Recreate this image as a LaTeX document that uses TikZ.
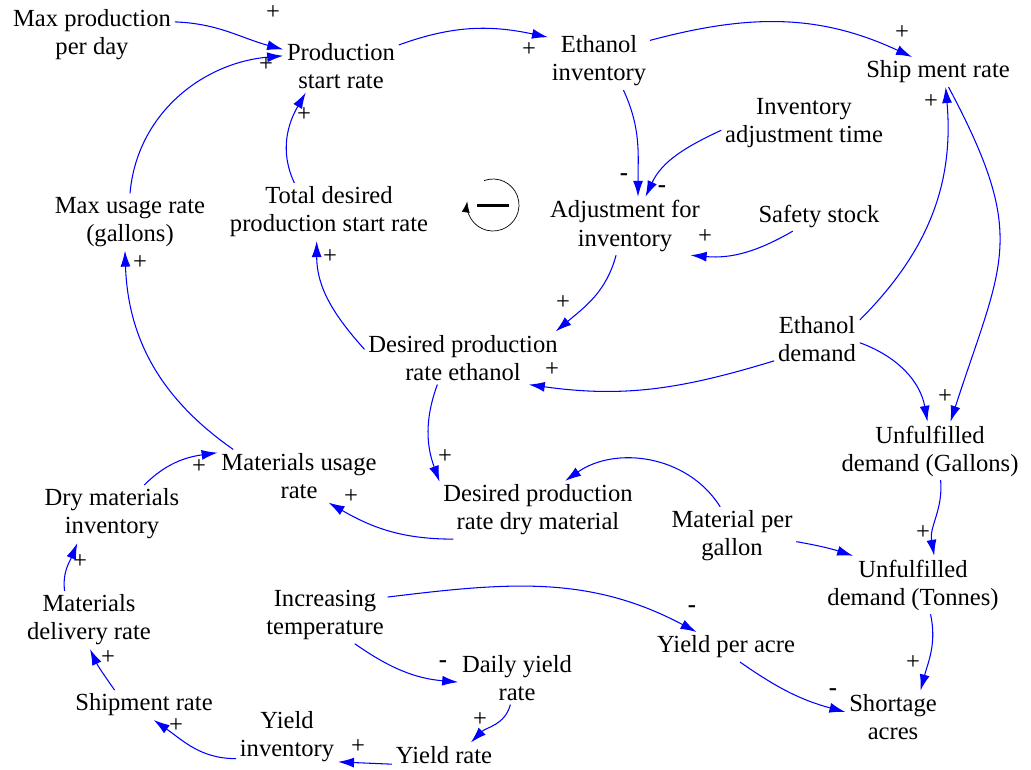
\documentclass[tikz,border=0pt]{standalone}
\usepackage{fontspec}
\setmainfont{Liberation Serif}
\usetikzlibrary{arrows.meta}
\begin{document}
\begin{tikzpicture}[x=0.02cm,y=0.02cm,
var/.style={align=center,inner sep=2pt,font=\fontsize{14}{16}\selectfont},
link/.style={blue,line width=.6pt,-{Latex[length=3.2mm,width=2mm]}},
sgn/.style={inner sep=0pt,font=\fontsize{14}{16}\selectfont}]
\useasboundingbox (0,0) rectangle (1031,-769);
\node [var] (mpd) at (92,-35) {Max production\\per day};
\node [var] (psr) at (341,-66) {Production\\start rate};
\node [var] (ei) at (599,-61) {Ethanol\\inventory};
\node [var] (shr) at (938,-72) {Ship ment rate};
\node [var] (iat) at (804,-123) {Inventory\\adjustment time};
\node [var] (afi) at (625,-226) {Adjustment for\\inventory};
\node [var] (ss) at (819,-216) {Safety stock};
\node [var] (tdp) at (329,-212) {Total desired\\production start rate};
\node [var] (mxur) at (130,-222) {Max usage rate\\(gallons)};
\node [var] (dpe) at (463,-358) {Desired production\\rate ethanol};
\node [var] (ed) at (817,-339) {Ethanol\\demand};
\node [var] (ufg) at (930,-451) {Unfulfilled\\demand (Gallons)};
\node [var] (mur) at (299,-476) {Materials usage\\rate};
\node [var] (dprm) at (538,-510) {Desired production\\rate dry material};
\node [var] (mpg) at (732,-536) {Material per\\gallon};
\node [var] (dmi) at (112,-514) {Dry materials\\inventory};
\node [var] (uft) at (913,-585) {Unfulfilled\\demand (Tonnes)};
\node [var] (mdr) at (89,-620) {Materials\\delivery rate};
\node [var] (it) at (325,-615) {Increasing\\temperature};
\node [var] (ypa) at (726,-647) {Yield per acre};
\node [var] (dyr) at (517,-678) {Daily yield\\rate};
\node [var] (sa) at (893,-717) {Shortage\\acres};
\node [var] (shp) at (144,-705) {Shipment rate};
\node [var] (yi) at (287,-737) {Yield\\inventory};
\node [var] (yr) at (444,-755) {Yield rate};
\draw [link] (mpd.9) to [out=-2,in=165] (psr.164);
\draw [link] (mxur.north) to [out=85,in=185] (psr.170);
\draw [link] (tdp.140) to [out=115,in=-120] (psr.217);
\draw [link] (psr.20) to [out=20,in=168] (ei.155);
\draw [link] (ei.22) to [out=15,in=155] (shr.150);
\draw [link] (ei.-50) to [out=-65,in=90] (afi.66);
\draw [link] (iat.185) to [out=205,in=65] (afi.55);
\draw [link] (ss.210) to [out=-150,in=-5] (afi.-24);
\draw [link] (afi.-107) to [out=-105,in=40] (dpe.16);
\draw [link] (dpe.175) to [out=132,in=-90] (tdp.-113);
\draw [link] (ed.207) to [out=-163,in=-8] (dpe.-22);
\draw [link] (ed.24) to [out=45,in=-85] (shr.-63);
\draw [link] (shr.-55) to [out=-62,in=72,looseness=1.3] (ufg.55);
\draw [link] (ed.-5) to [out=-20,in=100] (ufg.95);
\draw [link] (ufg.-70) to [out=-85,in=100] (uft.54);
\draw [link] (mpg.-5) to [out=-10,in=162] (uft.154);
\draw [link] (mpg.112) to [out=122,in=35] (dprm.47);
\draw [link] (dpe.-134) to [out=-110,in=110] (dprm.164);
\draw [link] (dprm.199) to [out=180,in=-30] (mur.-42);
\draw [link] (dmi.42) to [out=45,in=188] (mur.164);
\draw [link] (mur.158) to [out=145,in=-88] (mxur.-100);
\draw [link] (mdr.130) to [out=97,in=-112] (dmi.220);
\draw [link] (shp.153) to [out=125,in=-65] (mdr.-88);
\draw [link] (yi.203) to [out=180,in=-35] (shp.-57);
\draw [link] (yr.190) -- (yi.-26);
\draw [link] (dyr.-104) to [out=-105,in=45] (yr.25);
\draw [link] (it.-44) to [out=-35,in=175] (dyr.184);
\draw [link] (it.16) to [out=7,in=152] (ypa.153);
\draw [link] (ypa.-47) to [out=-35,in=165] (sa.174);
\draw [link] (uft.-59) to [out=-78,in=75] (sa.44);
\foreach \x/\y [count=\i] in {273/13,266/65,304/115,529/50,902/33,705/237,563/303,330/257,552/370,931/102,945/397,923/533,445/457,351/497,199/467,140/263,80/562,108/658,176/726,358/747,480/720,913/663}
\node [sgn] (p\i) at (\x,-\y) {+};
\foreach \x/\y [count=\i] in {624/177,662/189,443/664,692/609,833/692}
\node [sgn] (m\i) at (\x,-\y) {\textbf{-}};
\coordinate (loop) at (493,-205);
\draw [-{Latex[length=2.2mm,width=1.6mm]}] (loop) ++(110:26) arc [start angle=110, end angle=-188, radius=26];
\draw [line width=1.7pt] (loop) ++(-16,0) -- ++(32,0);
\end{tikzpicture}
\end{document}
